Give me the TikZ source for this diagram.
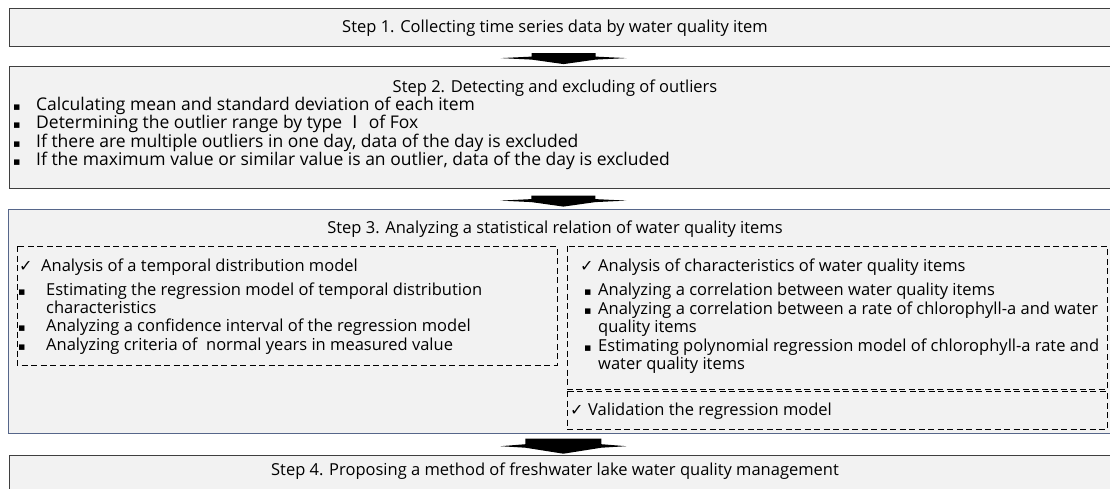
\documentclass[tikz,border=0pt]{standalone}
\usepackage{fontspec}
\setmainfont{Open Sans}
\newfontfamily\symfont{DejaVu Sans}
\newfontfamily\krfont{Noto Sans CJK KR}
\usetikzlibrary{calc}

\definecolor{boxfill}{HTML}{F2F2F2}
\definecolor{boxline}{HTML}{3F3F3F}
\definecolor{stepline}{HTML}{56668A}

\newcommand{\sq}{{\symfont\fontsize{11}{11}\selectfont ▪}}
\newcommand{\ck}{{\symfont\fontsize{16}{16}\selectfont ✓}}

\begin{document}
\begin{tikzpicture}[x=1pt,y=-1pt,
    font=\fontsize{16.5}{18.5}\selectfont,
    stepbox/.style={draw=boxline, line width=1.2pt, fill=boxfill, anchor=north west, inner sep=0pt},
    dashbox/.style={draw=black, line width=0.9pt, dash pattern=on 6pt off 3.5pt},
    itemline/.style={anchor=base west, inner sep=0pt},
    head/.style={anchor=base, inner sep=0pt},
    flowarrow/.pic={\fill (-63,1.5) -- (-32,0) -- (-32,-3.5) -- (32,-3.5) -- (32,0) -- (63,1.5) -- (32,3) -- (0,7.5) -- (-32,3) -- cycle;},
    bigarrow/.pic={\fill (-63,1.5) -- (-38,-0.5) -- (-38,-6) -- (38,-6) -- (38,-0.5) -- (63,1.5) -- (38,3) -- (0,9) -- (-38,3) -- cycle;}]
  \clip (0,0) rectangle (1110,488);

  % step boxes
  \node[stepbox, minimum width=1104, minimum height=38] (s1) at (9,8) {};
  \node[stepbox, minimum width=1104, minimum height=122] (s2) at (9,66) {};
  \node[stepbox, draw=stepline, line width=1.4pt, minimum width=1105, minimum height=224] (s3) at (8,209) {};
  \node[stepbox, minimum width=1104, minimum height=50] (s4) at (9,455) {};

  % arrows between the steps
  \path ($(s1.south)!.5!(s2.north)$) ++(2,0) coordinate (a1);
  \path ($(s2.south)!.5!(s3.north)$) ++(2,0) coordinate (a2);
  \path ($(s3.south)!.5!(s4.north)$) ++(2,0) coordinate (a3);
  \pic at (a1) {flowarrow};
  \pic at (a2) {flowarrow};
  \pic at (a3) {bigarrow};

  % step 1 and 2
  \node[head] (h1) at (555,32) {Step 1. Collecting time series data by water quality item};
  \node[head] (h2) at (555,92) {Step 2. Detecting and excluding of outliers};
  \begin{scope}[font=\fontsize{17.5}{18.5}\selectfont]
  \node[itemline] (o1) at (13,110) {\makebox[23pt][l]{\sq}Calculating mean and standard deviation of each item};
  \node[itemline] (o2) at (13,128.5) {\makebox[23pt][l]{\sq}Determining the outlier range by type {\krfont Ⅰ} of Fox};
  \node[itemline] (o3) at (13,147) {\makebox[23pt][l]{\sq}If there are multiple outliers in one day, data of the day is excluded};
  \node[itemline] (o4) at (13,165.5) {\makebox[23pt][l]{\sq}If the maximum value or similar value is an outlier, data of the day is excluded};
  \end{scope}

  % step 3
  \node[head] (h3) at (555,233) {Step 3. Analyzing a statistical relation of water quality items};
  \draw[dashbox] (17,246) rectangle (557,365);
  \draw[dashbox] (567,246) rectangle (1107,389);
  \draw[dashbox] (567,391) rectangle (1107,429);

  \node[itemline] (l0) at (19,271) {\makebox[22pt][l]{\ck}Analysis of a temporal distribution model};
  \node[itemline] (l1) at (18,295) {\makebox[28pt][l]{\sq}Estimating the regression model of temporal distribution};
  \node[itemline] (l1b) at (46,313) {characteristics};
  \node[itemline] (l2) at (18,331.5) {\makebox[28pt][l]{\sq}Analyzing a confidence interval of the regression model};
  \node[itemline] (l3) at (18,350) {\makebox[28pt][l]{\sq}Analyzing criteria of~ normal years in measured value};

  \node[itemline] (r0) at (580,271) {\makebox[18pt][l]{\ck}Analysis of characteristics of water quality items};
  \node[itemline] (r1) at (584,295) {\makebox[14pt][l]{\sq}Analyzing a correlation between water quality items};
  \node[itemline] (r2) at (584,314) {\makebox[14pt][l]{\sq}Analyzing a correlation between a rate of chlorophyll-a and water};
  \node[itemline] (r2b) at (598,332) {quality items};
  \node[itemline] (r3) at (584,351) {\makebox[14pt][l]{\sq}Estimating polynomial regression model of chlorophyll-a rate and};
  \node[itemline] (r3b) at (598,369) {water quality items};
  \node[itemline] (v0) at (570,415) {\makebox[18pt][l]{\ck}Validation the regression model};

  % step 4
  \node[head] (h4) at (555,475) {Step 4. Proposing a method of freshwater lake water quality management};
\end{tikzpicture}
\end{document}
